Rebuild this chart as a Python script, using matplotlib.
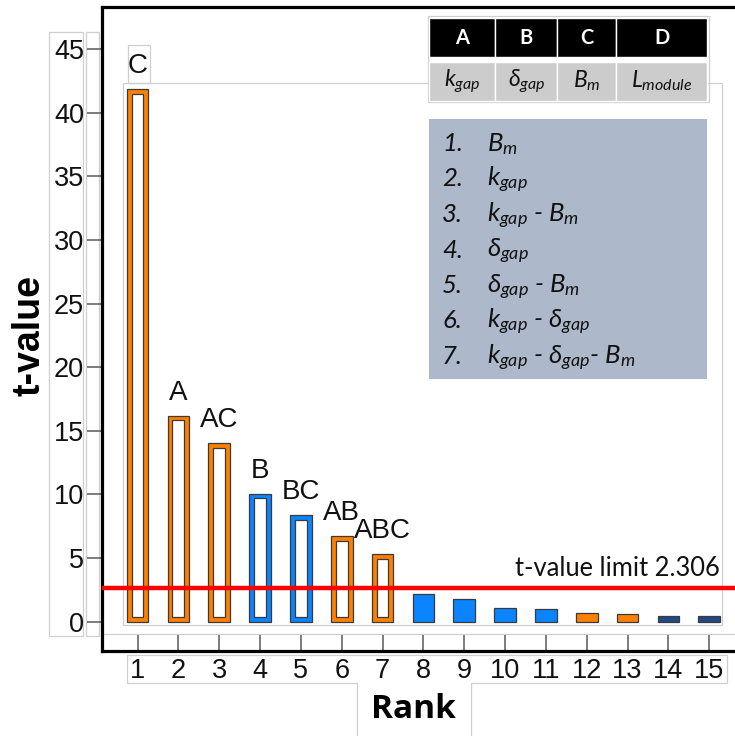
import matplotlib.pyplot as plt
from matplotlib.patches import Rectangle

plt.rcParams['mathtext.fontset'] = 'custom'
plt.rcParams['mathtext.it'] = 'Lato:italic'
plt.rcParams['mathtext.rm'] = 'Lato'

# data
rank = list(range(1, 16))
t_values = [41.9, 16.2, 14.05, 10.07, 8.37, 6.74, 5.3, 2.21, 1.77, 1.04, 0.96, 0.69, 0.59, 0.43, 0.43]
bar_colors = ['#ff8000'] * 3 + ['#0a84ff'] * 2 + ['#ff8000'] * 2 + ['#0a84ff'] * 4 + ['#ff8000'] * 2 + ['#1f4a85'] * 2
effect_labels = ['C', 'A', 'AC', 'B', 'BC', 'AB', 'ABC']
t_limit_drawn = 2.68
limit_text = 't-value limit 2.306'
factor_letters = ['A', 'B', 'C', 'D']
factor_names = [r'$k_{gap}$', r'$\delta_{gap}$', r'$B_m$', r'$L_{module}$']
ranking_terms = [r'$B_m$', r'$k_{gap}$', r'$k_{gap}$ - $B_m$', r'$\delta_{gap}$',
                 r'$\delta_{gap}$ - $B_m$', r'$k_{gap}$ - $\delta_{gap}$',
                 r'$k_{gap}$ - $\delta_{gap}$- $B_m$']
y_ticks = [0, 5, 10, 15, 20, 25, 30, 35, 40, 45]

W, H = 735, 736
fig = plt.figure(figsize=(W / 100, H / 100), dpi=100)

# overlay in pixel coordinates for the boxes, table and notes
ov = fig.add_axes([0, 0, 1, 1], zorder=0)
ov.set_xlim(0, W)
ov.set_ylim(H, 0)
ov.axis('off')

ax = fig.add_axes([102 / W, 1 - 650.5 / H, (W - 102) / W, (650.5 - 6.5) / H], zorder=1)
ax.set_facecolor('none')

gray = '#cfcfcf'
def box(x0, y0, x1, y1):
    ov.add_patch(Rectangle((x0, y0), x1 - x0, y1 - y0, fill=False, ec=gray, lw=0.9))

box(49.5, 31.5, 83.5, 636)
box(86, 31.5, 99, 636)
box(128.3, 45, 150, 83)
box(123.3, 83, 722.3, 625)
ov.plot([102, W], [634, 634], color=gray, lw=0.9)
ov.plot([356.7, 126.7, 126.7, 727.3, 727.3, 470.7, 470.7], [683.3, 683.3, 655, 655, 683.3, 683.3, H],
        color=gray, lw=0.9)
ov.plot([356.7, 356.7], [683.3, H], color=gray, lw=0.9)

# bars
edge = '#3a3a3a'
ax.bar(rank, t_values, width=0.53, color=bar_colors, edgecolor=edge, linewidth=0.9, zorder=2)
n_h = len(effect_labels)
inset = 0.39
ax.bar(rank[:n_h], [v - 2 * inset for v in t_values[:n_h]], width=0.29, bottom=inset,
       color='white', edgecolor=edge, linewidth=0.9, zorder=3)
for x, v, lab in zip(rank, t_values, effect_labels):
    ax.annotate(lab, (x, v), xytext=(0, 7), textcoords='offset points', ha='center', va='bottom',
                fontsize=20, family='Liberation Sans', color='#111111')

ax.axhline(t_limit_drawn, color='#ff0000', lw=3.2, zorder=4)
ov.text(720, 576.5, limit_text, ha='right', va='baseline', fontsize=18.4, family='Lato', color='#111111')

ax.set_xlim(0.13, 15.63)
ax.set_ylim(-2.27, 48.35)
ax.set_yticks(y_ticks)
ax.set_xticks(rank)
ax.tick_params(axis='y', direction='out', length=11, width=1.2, color='#666666', pad=2,
               labelsize=19.5, labelcolor='#111111')
ax.tick_params(axis='x', direction='in', length=11.5, width=1.2, color='#666666', pad=5.5,
               labelsize=19.5, labelcolor='#111111')
for lab in ax.get_xticklabels() + ax.get_yticklabels():
    lab.set_family('Liberation Sans')
for s in ['left', 'top', 'bottom']:
    ax.spines[s].set_linewidth(2.3)
    ax.spines[s].set_color('black')
ax.spines['right'].set_visible(False)

ov.text(30, 335, 't-value', rotation=90, ha='center', va='center', fontsize=27,
        fontweight='bold', family='Liberation Sans')
ov.text(413, 710, 'Rank', ha='center', va='center', fontsize=24, fontweight='bold', family='Open Sans')

# factor table
col_x = [429.3, 495.5, 557.2, 616.2, 707.5]
ov.add_patch(Rectangle((428, 16), 281, 86, fill=False, ec=gray, lw=0.9))
for i in range(4):
    x0, x1 = col_x[i], col_x[i + 1]
    ov.add_patch(Rectangle((x0, 18), x1 - x0, 39, fc='black', ec='white', lw=1))
    ov.add_patch(Rectangle((x0, 61.5), x1 - x0, 39, fc='#cccccc', ec='white', lw=1))
    ov.text((x0 + x1) / 2, 38, factor_letters[i], ha='center', va='center', color='white',
            fontsize=14.5, fontweight='bold', family='Lato')
    ov.text((x0 + x1) / 2, 81, factor_names[i], ha='center', va='center', color='#111111', fontsize=16.5)

# ranking note
ov.add_patch(Rectangle((429.3, 119.3), 278, 259.7, fc='#adb9ca', ec='none'))
for i, term in enumerate(ranking_terms):
    y = 151 + i * 35.5
    ov.text(442, y, f'{i + 1}.', ha='left', va='baseline', fontsize=18.5, style='italic',
            family='Lato', color='#111111')
    ov.text(487, y, term, ha='left', va='baseline', fontsize=18.5, style='italic',
            family='Lato', color='#111111')

fig.savefig('out.png', dpi=100)
